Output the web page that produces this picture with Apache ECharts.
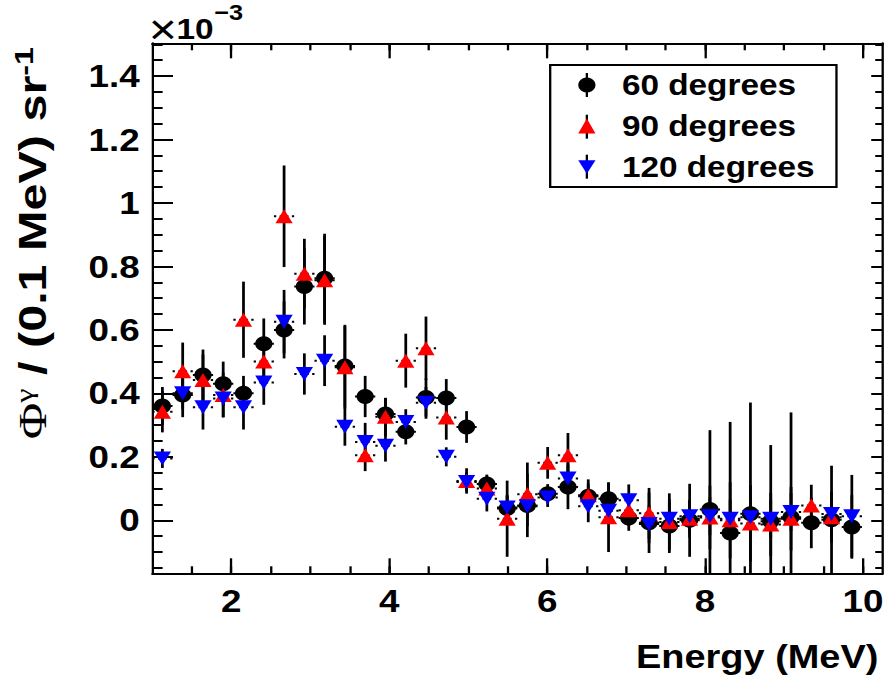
<!DOCTYPE html>
<html>
<head>
<meta charset="utf-8">
<script src="https://cdn.jsdelivr.net/npm/echarts@6/dist/echarts.min.js"></script>
<style>
html,body{margin:0;padding:0;background:#fff;overflow:hidden;}
#wrap{width:885px;height:679px;overflow:hidden;}
#chart{width:770px;height:679px;transform:scaleX(1.149351);transform-origin:0 0;}
</style>
</head>
<body>
<div id="wrap"><div id="chart"></div></div>
<script>
// ---- data (flux in units of 1e-3 per 0.1 MeV per sr) ----
const energies = [1.128, 1.385, 1.642, 1.898, 2.155, 2.412, 2.669, 2.926, 3.182, 3.439, 3.696, 3.953, 4.210, 4.466, 4.723, 4.980, 5.237, 5.494, 5.750, 6.007, 6.264, 6.521, 6.778, 7.034, 7.291, 7.548, 7.805, 8.062, 8.318, 8.575, 8.832, 9.089, 9.346, 9.602, 9.859];

const flux60 = [0.36, 0.395, 0.458, 0.43, 0.40, 0.556, 0.60, 0.737, 0.763, 0.486, 0.39, 0.335, 0.279, 0.387, 0.385, 0.294, 0.114, 0.037, 0.047, 0.084, 0.105, 0.076, 0.068, 0.007, -0.008, -0.018, 0.0, 0.034, -0.04, 0.021, -0.003, 0.01, -0.008, 0.002, -0.021];
const err60 = [0.06, 0.07, 0.08, 0.07, 0.055, 0.08, 0.09, 0.12, 0.14, 0.13, 0.065, 0.05, 0.04, 0.06, 0.06, 0.05, 0.03, 0.04, 0.1, 0.03, 0.07, 0.04, 0.05, 0.04, 0.095, 0.085, 0.115, 0.25, 0.35, 0.35, 0.24, 0.33, 0.08, 0.17, 0.1];

const flux90 = [0.342, 0.47, 0.442, 0.395, 0.632, 0.50, 0.958, 0.777, 0.756, 0.482, 0.205, 0.326, 0.503, 0.542, 0.324, 0.124, 0.10, 0.005, 0.082, 0.181, 0.205, 0.079, 0.01, 0.032, 0.022, -0.005, 0.005, 0.009, 0.0, -0.01, -0.013, 0.005, 0.047, 0.01, null];
const err90 = [0.065, 0.09, 0.08, 0.07, 0.12, 0.07, 0.16, 0.11, 0.14, 0.13, 0.05, 0.06, 0.085, 0.1, 0.07, 0.04, 0.04, 0.12, 0.1, 0.05, 0.07, 0.05, 0.11, 0.05, 0.08, 0.09, 0.06, 0.1, 0.12, 0.12, 0.1, 0.1, 0.065, 0.08, null];

const flux120 = [0.195, 0.40, 0.356, 0.384, 0.356, 0.434, 0.626, 0.461, 0.503, 0.295, 0.247, 0.235, 0.31, 0.37, 0.20, 0.121, 0.068, 0.04, 0.044, 0.072, 0.132, 0.044, 0.03, 0.063, -0.012, 0.005, 0.013, 0.013, 0.005, 0.01, 0.005, 0.026, null, 0.02, 0.013];
const err120 = [0.03, 0.05, 0.07, 0.06, 0.07, 0.07, 0.1, 0.065, 0.08, 0.06, 0.06, 0.05, 0.04, 0.05, 0.03, 0.03, 0.04, 0.04, 0.04, 0.03, 0.05, 0.05, 0.04, 0.05, 0.06, 0.05, 0.05, 0.06, 0.06, 0.06, 0.06, 0.06, null, 0.07, 0.13];

const seriesNames = ['60 degrees', '90 degrees', '120 degrees'];
const binHalfWidth = 0.128;

// ---- ticks ----
const xMajorTicks = [2, 4, 6, 8, 10];
const xMinorTicks = [1.5, 2, 2.5, 3, 3.5, 4, 4.5, 5, 5.5, 6, 6.5, 7, 7.5, 8, 8.5, 9, 9.5, 10];
const yMajorTicks = [0, 0.2, 0.4, 0.6, 0.8, 1, 1.2, 1.4];
const yMinorTicks = [-0.15, -0.1, -0.05, 0, 0.05, 0.1, 0.15, 0.2, 0.25, 0.3, 0.35, 0.4, 0.45, 0.5, 0.55, 0.6, 0.65, 0.7, 0.75, 0.8, 0.85, 0.9, 0.95, 1, 1.05, 1.1, 1.15, 1.2, 1.25, 1.3, 1.35, 1.4, 1.45, 1.5];

const X_MIN = 1, X_MAX = 10.25, Y_MIN = -0.167, Y_MAX = 1.503;
const FONT = "'Liberation Sans', Arial, Helvetica, sans-serif";
const SERIF = "'Liberation Serif', 'Times New Roman', serif";

function pts(vals) {
  const out = [];
  energies.forEach((e, i) => { if (vals[i] !== null) out.push([e, vals[i]]); });
  return out;
}
function errPts(vals, errs) {
  const out = [];
  energies.forEach((e, i) => { if (vals[i] !== null) out.push([e, vals[i], errs[i]]); });
  return out;
}
function errRender(params, api) {
  const x = api.value(0), y = api.value(1), e = api.value(2);
  const lo = api.coord([x, Math.max(y - e, Y_MIN)]);
  const hi = api.coord([x, Math.min(y + e, Y_MAX)]);
  const c = api.coord([x, y]);
  const l = api.coord([Math.max(x - binHalfWidth, X_MIN), y]);
  const r = api.coord([Math.min(x + binHalfWidth, X_MAX), y]);
  return {
    type: 'group',
    children: [
      {type: 'line', shape: {x1: lo[0], y1: lo[1], x2: hi[0], y2: hi[1]}, style: {stroke: '#000', lineWidth: 2.4}},
      {type: 'line', shape: {x1: l[0], y1: l[1], x2: c[0], y2: c[1]}, style: {stroke: '#000', lineWidth: 2, lineDash: [2, 3]}},
      {type: 'line', shape: {x1: r[0], y1: r[1], x2: c[0], y2: c[1]}, style: {stroke: '#000', lineWidth: 2, lineDash: [2, 3]}}
    ]
  };
}

function xAxisCfg(pos, ticks, len, showLine, labels) {
  return {
    type: 'value', position: pos, min: X_MIN, max: X_MAX,
    axisLine: {show: showLine, onZero: false, lineStyle: {color: '#000', width: 2}},
    axisTick: {show: true, inside: true, length: len, customValues: ticks, lineStyle: {color: '#000', width: 2}},
    axisLabel: labels ? {show: true, customValues: xMajorTicks, margin: 12, color: '#000', fontFamily: FONT, fontWeight: 'bold', fontSize: 32} : {show: false},
    splitLine: {show: false}
  };
}
function yAxisCfg(pos, ticks, len, showLine, labels) {
  return {
    type: 'value', position: pos, min: Y_MIN, max: Y_MAX,
    axisLine: {show: showLine, onZero: false, lineStyle: {color: '#000', width: 2}},
    axisTick: {show: true, inside: true, length: len, customValues: ticks, lineStyle: {color: '#000', width: 2}},
    axisLabel: labels ? {show: true, customValues: yMajorTicks, margin: 11, color: '#000', fontFamily: FONT, fontWeight: 'bold', fontSize: 32,
      formatter: v => String(Math.round(v * 10) / 10)} : {show: false},
    splitLine: {show: false}
  };
}

const downTri = 'path://M0,0L20,0L10,18Z';
const legendRowsY = [85, 126.7, 166.7];

const chart = echarts.init(document.getElementById('chart'), null, {renderer: 'svg'});
chart.setOption({
  backgroundColor: '#fff',
  animation: false,
  grid: {left: 132.5, top: 43.3, width: 635.5, height: 530, containLabel: false, outerBoundsMode: 'none'},
  xAxis: [
    xAxisCfg('bottom', xMajorTicks, 15, true, true),
    xAxisCfg('bottom', xMinorTicks, 7, false, false),
    xAxisCfg('top', xMajorTicks, 15, true, false),
    xAxisCfg('top', xMinorTicks, 7, false, false)
  ],
  yAxis: [
    yAxisCfg('left', yMajorTicks, 18, true, true),
    yAxisCfg('left', yMinorTicks, 9, false, false),
    yAxisCfg('right', yMajorTicks, 10, true, false),
    yAxisCfg('right', yMinorTicks, 6.5, false, false)
  ],
  legend: {
    orient: 'vertical', left: 478.7, top: 65,
    padding: [5, 19, 5, 24.4], itemGap: 11, itemWidth: 15, itemHeight: 15,
    borderColor: '#000', borderWidth: 2, selectedMode: false, z: 6,
    textStyle: {fontFamily: FONT, fontWeight: 'bold', fontSize: 29, color: '#000', lineHeight: 30, padding: [0, 0, 0, 18]},
    data: seriesNames
  },
  graphic: [
    ...legendRowsY.map(y => ({type: 'line', z: 1, shape: {x1: 510.6, y1: y - 12, x2: 510.6, y2: y + 12}, style: {stroke: '#000', lineWidth: 2}})),
    {type: 'text', x: 764.2, y: 640, style: {text: 'Energy (MeV)', fill: '#000', font: "bold 33px " + FONT, align: 'right', verticalAlign: 'top'}},
    {type: 'text', x: 129.5, y: 30, style: {text: '×', fill: '#000', fontFamily: FONT, fontSize: 42, fontWeight: 'normal', align: 'left', verticalAlign: 'middle'}},
    {type: 'text', x: 153.5, y: 15, style: {text: '10', fill: '#000', fontFamily: FONT, fontSize: 29, fontWeight: 'bold', align: 'left', verticalAlign: 'top'}},
    {type: 'text', x: 186.5, y: 2, style: {text: '−3', fill: '#000', fontFamily: FONT, fontSize: 22, fontWeight: 'bold', align: 'left', verticalAlign: 'top'}},
    {type: 'text', x: 48, y: 47, rotation: Math.PI / 2, scaleX: 1.47, style: {
      text: '{p|Φ}{g|γ}{a| / (0.1 MeV) sr}{e|-1}', fill: '#000', align: 'right', verticalAlign: 'bottom',
      rich: {
        p: {fontFamily: SERIF, fontSize: 34, lineHeight: 38, fill: '#000'},
        g: {fontFamily: SERIF, fontSize: 22, lineHeight: 22, verticalAlign: 'top', fill: '#000'},
        a: {fontFamily: FONT, fontSize: 33, fontWeight: 'bold', lineHeight: 38, fill: '#000'},
        e: {fontFamily: FONT, fontSize: 22, fontWeight: 'bold', lineHeight: 22, verticalAlign: 'top', fill: '#000'}
      }
    }}
  ],
  series: [
    {type: 'custom', name: 'err60', renderItem: errRender, encode: {x: 0, y: 1}, data: errPts(flux60, err60), z: 2, silent: true},
    {type: 'custom', name: 'err90', renderItem: errRender, encode: {x: 0, y: 1}, data: errPts(flux90, err90), z: 2, silent: true},
    {type: 'custom', name: 'err120', renderItem: errRender, encode: {x: 0, y: 1}, data: errPts(flux120, err120), z: 2, silent: true},
    {type: 'scatter', name: seriesNames[0], symbol: 'circle', symbolSize: 15, itemStyle: {color: '#000', opacity: 1}, data: pts(flux60), z: 3},
    {type: 'scatter', name: seriesNames[1], symbol: 'triangle', symbolSize: [15, 14], itemStyle: {color: '#ff0000', opacity: 1}, data: pts(flux90), z: 4},
    {type: 'scatter', name: seriesNames[2], symbol: downTri, symbolSize: [15, 14], itemStyle: {color: '#0000ff', opacity: 1}, data: pts(flux120), z: 5}
  ]
});
</script>
</body>
</html>
